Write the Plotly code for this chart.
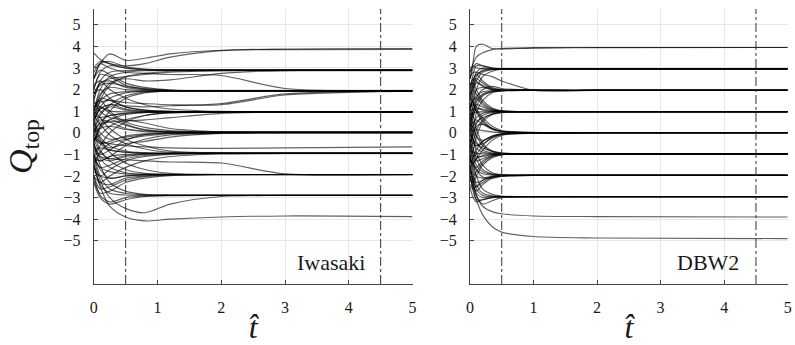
import plotly.graph_objects as go

# ---------------- data ----------------
panel_labels = ["Iwasaki", "DBW2"]
x_ticks = [0, 1, 2, 3, 4, 5]
y_ticks = [-5, -4, -3, -2, -1, 0, 1, 2, 3, 4, 5]
marker_times = [0.5, 4.5]

t_iwasaki = [0, 0.1, 0.25, 0.5, 0.8, 1.2, 2, 3, 5]
q_iwasaki = [
    # -> 0
    [0.3, 0.6, 0.5, 0.2, 0.08, 0.03, 0.02, 0.02, 0.02],
    [-0.2, -0.5, -0.4, -0.15, -0.05, 0.0, 0.01, 0.01, 0.01],
    [0.8, 1.2, 0.9, 0.4, 0.15, 0.05, 0.03, 0.03, 0.03],
    [-0.6, -1.0, -0.8, -0.35, -0.1, -0.02, 0.0, 0.0, 0.0],
    [1.2, 1.5, 1.0, 0.5, 0.25, 0.1, 0.04, 0.03, 0.03],
    [0.0, 0.2, 0.3, 0.15, 0.05, 0.02, 0.02, 0.02, 0.02],
    [-1.0, -1.3, -1.1, -0.6, -0.3, -0.1, -0.02, 0.0, 0.0],
    [0.5, 0.0, -0.3, -0.2, -0.08, -0.01, 0.01, 0.01, 0.01],
    [-0.4, 0.3, 0.6, 0.35, 0.12, 0.04, 0.03, 0.03, 0.03],
    [1.5, 1.0, 0.7, 0.6, 0.45, 0.2, 0.05, 0.03, 0.03],
    [-1.5, -0.9, -0.5, -0.3, -0.15, -0.04, 0.0, 0.0, 0.0],
    [0.2, -0.4, -0.7, -0.5, -0.4, -0.2, -0.03, 0.01, 0.01],
    # -> 1
    [0.5, 1.1, 1.3, 1.1, 1.0, 0.98, 0.97, 0.97, 0.97],
    [0.0, 0.5, 0.8, 0.9, 0.95, 0.97, 0.97, 0.97, 0.97],
    [1.0, 1.6, 1.5, 1.2, 1.05, 0.99, 0.98, 0.98, 0.98],
    [-0.5, 0.2, 0.6, 0.85, 0.93, 0.96, 0.96, 0.96, 0.96],
    [1.8, 2.0, 1.6, 1.2, 1.05, 0.99, 0.97, 0.97, 0.97],
    [0.3, 0.9, 1.2, 1.05, 0.99, 0.97, 0.97, 0.97, 0.97],
    [-0.3, -0.1, 0.3, 0.6, 0.8, 0.92, 0.96, 0.96, 0.96],
    [2.2, 2.4, 2.0, 1.6, 1.3, 1.1, 0.99, 0.98, 0.98],
    [0.8, 0.7, 0.8, 0.9, 0.95, 0.97, 0.97, 0.97, 0.97],
    [-1.0, -0.6, 0.0, 0.5, 0.8, 0.93, 0.97, 0.97, 0.97],
    [1.4, 1.2, 1.0, 0.97, 0.97, 0.97, 0.97, 0.97, 0.97],
    [0.1, 0.4, 0.5, 0.55, 0.6, 0.7, 0.9, 0.96, 0.97],
    # -> 2
    [1.0, 1.8, 2.1, 2.0, 1.96, 1.94, 1.94, 1.94, 1.94],
    [1.5, 2.3, 2.4, 2.1, 2.0, 1.95, 1.94, 1.94, 1.94],
    [0.5, 1.2, 1.6, 1.85, 1.92, 1.94, 1.94, 1.94, 1.94],
    [2.0, 2.7, 2.6, 2.2, 2.02, 1.96, 1.95, 1.95, 1.95],
    [0.0, 0.8, 1.3, 1.7, 1.88, 1.93, 1.94, 1.94, 1.94],
    [2.5, 2.9, 2.7, 2.3, 2.1, 1.98, 1.95, 1.95, 1.95],
    [1.2, 1.5, 1.8, 1.9, 1.93, 1.94, 1.94, 1.94, 1.94],
    [-0.5, 0.3, 1.0, 1.6, 1.85, 1.93, 1.94, 1.94, 1.94],
    [0.8, 1.4, 1.5, 1.4, 1.35, 1.3, 1.3, 1.75, 1.93],
    [0.6, 1.1, 1.3, 1.25, 1.2, 1.25, 1.35, 1.8, 1.93],
    [2.8, 3.2, 3.0, 2.8, 2.75, 2.7, 2.65, 2.05, 1.95],
    [1.8, 2.2, 2.3, 2.15, 2.05, 1.97, 1.94, 1.94, 1.94],
    # -> 3
    [1.5, 2.4, 2.8, 2.88, 2.9, 2.9, 2.9, 2.9, 2.9],
    [2.0, 2.8, 3.1, 3.0, 2.93, 2.9, 2.9, 2.9, 2.9],
    [1.0, 2.0, 2.6, 2.8, 2.87, 2.89, 2.89, 2.89, 2.89],
    [2.5, 3.2, 3.3, 3.05, 2.95, 2.91, 2.9, 2.9, 2.9],
    [0.5, 1.5, 2.2, 2.6, 2.75, 2.85, 2.88, 2.88, 2.88],
    [3.7, 3.4, 3.2, 3.0, 2.93, 2.91, 2.91, 2.91, 2.91],
    [1.8, 2.3, 2.5, 2.6, 2.7, 2.8, 2.87, 2.89, 2.89],
    [0.8, 1.7, 2.3, 2.5, 2.4, 2.45, 2.75, 2.88, 2.89],
    # -> 4
    [2.5, 3.2, 3.65, 3.35, 3.45, 3.65, 3.82, 3.85, 3.86],
    [3.0, 3.3, 3.2, 3.1, 3.2, 3.5, 3.8, 3.88, 3.9],
    # -> -1
    [-0.5, -1.1, -1.3, -1.1, -1.0, -0.96, -0.95, -0.95, -0.95],
    [0.0, -0.5, -0.8, -0.9, -0.94, -0.95, -0.95, -0.95, -0.95],
    [-1.0, -1.6, -1.5, -1.2, -1.05, -0.98, -0.96, -0.96, -0.96],
    [0.5, -0.2, -0.6, -0.85, -0.93, -0.95, -0.95, -0.95, -0.95],
    [-1.5, -2.0, -1.7, -1.3, -1.1, -1.0, -0.96, -0.96, -0.96],
    [-0.3, -0.9, -1.2, -1.05, -0.98, -0.95, -0.94, -0.94, -0.94],
    [0.8, 0.4, -0.1, -0.5, -0.75, -0.9, -0.94, -0.94, -0.94],
    [-2.0, -2.3, -2.0, -1.6, -1.3, -1.1, -0.98, -0.96, -0.96],
    [-0.8, -0.7, -0.8, -0.9, -0.94, -0.95, -0.95, -0.95, -0.95],
    [1.0, 0.7, 0.2, -0.3, -0.6, -0.85, -0.93, -0.94, -0.94],
    [-0.2, -0.4, -0.5, -0.6, -0.65, -0.7, -0.72, -0.7, -0.65],
    [-1.2, -1.3, -1.1, -1.0, -0.96, -0.95, -0.95, -0.95, -0.95],
    # -> -2
    [-1.0, -1.7, -2.1, -2.0, -1.95, -1.93, -1.93, -1.93, -1.93],
    [-1.5, -2.3, -2.4, -2.1, -2.0, -1.95, -1.93, -1.93, -1.93],
    [-0.5, -1.2, -1.6, -1.85, -1.92, -1.93, -1.93, -1.93, -1.93],
    [-2.0, -2.6, -2.5, -2.2, -2.03, -1.96, -1.94, -1.94, -1.94],
    [0.0, -0.8, -1.3, -1.7, -1.88, -1.92, -1.93, -1.93, -1.93],
    [-1.2, -1.6, -1.8, -1.9, -1.92, -1.93, -1.93, -1.93, -1.93],
    [-0.8, -1.1, -1.2, -1.25, -1.3, -1.35, -1.4, -1.9, -1.93],
    [-2.2, -2.8, -2.7, -2.3, -2.1, -1.98, -1.94, -1.94, -1.94],
    [0.3, -0.3, -0.9, -1.4, -1.7, -1.88, -1.93, -1.93, -1.93],
    [-1.8, -2.0, -2.1, -2.0, -1.95, -1.93, -1.93, -1.93, -1.93],
    # -> -3
    [-1.5, -2.4, -2.8, -2.88, -2.9, -2.9, -2.9, -2.9, -2.9],
    [-2.0, -2.9, -3.2, -3.0, -2.93, -2.9, -2.9, -2.9, -2.9],
    [-1.0, -2.0, -2.6, -2.8, -2.87, -2.89, -2.89, -2.89, -2.89],
    [-2.3, -3.0, -3.3, -3.1, -2.95, -2.91, -2.9, -2.9, -2.9],
    [-0.5, -1.5, -2.3, -2.7, -2.85, -2.88, -2.89, -2.89, -2.89],
    [-1.2, -2.2, -3.0, -3.5, -3.7, -3.3, -2.95, -2.9, -2.9],
    # -> -4
    [-1.5, -2.5, -3.4, -3.9, -4.08, -4.0, -3.9, -3.85, -3.88],
]

t_dbw2 = [0, 0.05, 0.1, 0.2, 0.35, 0.5, 1, 2, 5]
q_dbw2 = [
    # -> 0
    [0.3, 0.5, 0.6, 0.4, 0.15, 0.05, 0.0, 0.0, 0.0],
    [-0.3, -0.5, -0.6, -0.4, -0.15, -0.05, 0.0, 0.0, 0.0],
    [0.8, 1.1, 1.0, 0.6, 0.2, 0.06, 0.01, 0.0, 0.0],
    [-0.8, -1.1, -1.0, -0.6, -0.2, -0.06, -0.01, 0.0, 0.0],
    [1.2, 1.3, 1.1, 0.7, 0.3, 0.1, 0.02, 0.01, 0.01],
    [0.0, 0.1, 0.15, 0.1, 0.04, 0.01, 0.0, 0.0, 0.0],
    [-1.3, -1.4, -1.2, -0.8, -0.35, -0.12, -0.02, 0.0, 0.0],
    [0.5, 0.2, -0.2, -0.35, -0.2, -0.06, -0.01, 0.0, 0.0],
    [-0.5, -0.1, 0.3, 0.4, 0.2, 0.06, 0.01, 0.0, 0.0],
    [1.6, 1.4, 1.0, 0.5, 0.2, 0.07, 0.01, 0.01, 0.01],
    [-1.6, -1.2, -0.8, -0.4, -0.15, -0.05, -0.01, 0.0, 0.0],
    [0.2, -0.3, -0.6, -0.5, -0.25, -0.08, -0.01, 0.0, 0.0],
    # -> 1
    [0.5, 1.0, 1.3, 1.2, 1.05, 1.0, 0.98, 0.98, 0.98],
    [0.0, 0.4, 0.7, 0.9, 0.96, 0.98, 0.98, 0.98, 0.98],
    [1.0, 1.5, 1.6, 1.3, 1.08, 1.0, 0.98, 0.98, 0.98],
    [-0.5, 0.0, 0.4, 0.8, 0.94, 0.97, 0.98, 0.98, 0.98],
    [1.7, 2.0, 1.8, 1.4, 1.1, 1.01, 0.98, 0.98, 0.98],
    [0.3, 0.8, 1.1, 1.1, 1.02, 0.99, 0.98, 0.98, 0.98],
    [-0.8, -0.4, 0.1, 0.6, 0.88, 0.95, 0.98, 0.98, 0.98],
    [2.2, 2.3, 2.0, 1.5, 1.15, 1.02, 0.98, 0.98, 0.98],
    [0.8, 0.9, 0.95, 0.97, 0.98, 0.98, 0.98, 0.98, 0.98],
    [-1.2, -0.8, -0.2, 0.5, 0.85, 0.95, 0.98, 0.98, 0.98],
    [1.3, 1.4, 1.2, 1.05, 1.0, 0.98, 0.98, 0.98, 0.98],
    [0.1, 0.3, 0.5, 0.7, 0.85, 0.93, 0.97, 0.98, 0.98],
    # -> 2
    [1.0, 1.6, 2.0, 2.1, 2.0, 1.97, 1.96, 1.96, 1.96],
    [1.5, 2.2, 2.5, 2.3, 2.05, 1.98, 1.96, 1.96, 1.96],
    [0.5, 1.0, 1.5, 1.8, 1.93, 1.95, 1.96, 1.96, 1.96],
    [2.0, 2.5, 2.7, 2.4, 2.1, 2.0, 1.96, 1.96, 1.96],
    [0.0, 0.7, 1.2, 1.7, 1.9, 1.95, 1.96, 1.96, 1.96],
    [2.5, 2.8, 2.8, 2.7, 2.6, 2.4, 1.97, 1.96, 1.96],
    [1.2, 1.5, 1.7, 1.9, 1.95, 1.96, 1.96, 1.96, 1.96],
    [-0.5, 0.2, 0.9, 1.5, 1.85, 1.94, 1.96, 1.96, 1.96],
    [0.8, 1.2, 1.6, 2.0, 2.15, 2.05, 1.97, 1.96, 1.96],
    [1.8, 2.1, 2.3, 2.2, 2.03, 1.98, 1.96, 1.96, 1.96],
    [0.3, 0.9, 1.4, 1.75, 1.9, 1.95, 1.96, 1.96, 1.96],
    [2.2, 2.5, 2.4, 2.15, 2.0, 1.97, 1.96, 1.96, 1.96],
    # -> 3
    [1.5, 2.3, 2.8, 3.0, 2.97, 2.96, 2.96, 2.96, 2.96],
    [2.0, 2.7, 3.1, 3.1, 3.0, 2.97, 2.96, 2.96, 2.96],
    [1.0, 1.8, 2.4, 2.8, 2.92, 2.95, 2.96, 2.96, 2.96],
    [2.5, 3.0, 3.2, 3.1, 3.0, 2.97, 2.96, 2.96, 2.96],
    [0.5, 1.3, 2.0, 2.6, 2.85, 2.93, 2.96, 2.96, 2.96],
    [2.8, 3.1, 3.0, 2.97, 2.96, 2.96, 2.96, 2.96, 2.96],
    [1.8, 2.4, 2.7, 2.85, 2.93, 2.95, 2.96, 2.96, 2.96],
    [1.2, 2.0, 2.6, 2.9, 2.95, 2.96, 2.96, 2.96, 2.96],
    # -> 4
    [2.5, 3.3, 4.0, 4.1, 3.9, 3.88, 3.92, 3.94, 3.95],
    [2.8, 3.2, 3.5, 3.7, 3.85, 3.9, 3.94, 3.95, 3.95],
    # -> -1
    [-0.5, -1.0, -1.3, -1.2, -1.05, -1.0, -0.98, -0.98, -0.98],
    [0.0, -0.4, -0.7, -0.9, -0.96, -0.98, -0.98, -0.98, -0.98],
    [-1.0, -1.5, -1.6, -1.3, -1.08, -1.0, -0.98, -0.98, -0.98],
    [0.5, 0.0, -0.4, -0.8, -0.94, -0.97, -0.98, -0.98, -0.98],
    [-1.7, -2.0, -1.8, -1.4, -1.1, -1.01, -0.98, -0.98, -0.98],
    [-0.3, -0.8, -1.1, -1.1, -1.02, -0.99, -0.98, -0.98, -0.98],
    [0.8, 0.4, -0.1, -0.6, -0.88, -0.95, -0.98, -0.98, -0.98],
    [-2.2, -2.3, -2.0, -1.5, -1.15, -1.02, -0.98, -0.98, -0.98],
    [-0.8, -0.9, -0.95, -0.97, -0.98, -0.98, -0.98, -0.98, -0.98],
    [1.2, 0.8, 0.2, -0.5, -0.85, -0.95, -0.98, -0.98, -0.98],
    [-1.3, -1.4, -1.2, -1.05, -1.0, -0.98, -0.98, -0.98, -0.98],
    [-0.1, -0.3, -0.5, -0.7, -0.85, -0.93, -0.97, -0.98, -0.98],
    # -> -2
    [-1.0, -1.6, -2.0, -2.1, -2.0, -1.98, -1.97, -1.97, -1.97],
    [-1.5, -2.2, -2.5, -2.3, -2.05, -1.99, -1.97, -1.97, -1.97],
    [-0.5, -1.0, -1.5, -1.8, -1.93, -1.96, -1.97, -1.97, -1.97],
    [-2.0, -2.5, -2.7, -2.4, -2.1, -2.0, -1.97, -1.97, -1.97],
    [0.0, -0.7, -1.2, -1.7, -1.9, -1.95, -1.97, -1.97, -1.97],
    [-1.2, -1.5, -1.7, -1.9, -1.95, -1.97, -1.97, -1.97, -1.97],
    [0.4, -0.3, -0.9, -1.5, -1.85, -1.94, -1.97, -1.97, -1.97],
    [-0.8, -1.3, -1.7, -2.05, -2.1, -2.02, -1.97, -1.97, -1.97],
    [-1.8, -2.1, -2.3, -2.2, -2.03, -1.98, -1.97, -1.97, -1.97],
    [-2.4, -2.6, -2.5, -2.2, -2.04, -1.99, -1.97, -1.97, -1.97],
    # -> -3
    [-1.5, -2.3, -2.8, -3.0, -2.97, -2.96, -2.96, -2.96, -2.96],
    [-2.0, -2.7, -3.1, -3.1, -3.0, -2.97, -2.96, -2.96, -2.96],
    [-1.0, -1.8, -2.4, -2.8, -2.92, -2.95, -2.96, -2.96, -2.96],
    [-2.5, -3.0, -3.2, -3.1, -3.0, -2.97, -2.96, -2.96, -2.96],
    [-0.5, -1.3, -2.0, -2.6, -2.85, -2.93, -2.96, -2.96, -2.96],
    [-1.8, -2.4, -2.9, -3.3, -3.15, -3.0, -2.96, -2.96, -2.96],
    [-1.2, -2.0, -2.6, -2.9, -2.95, -2.96, -2.96, -2.96, -2.96],
    # -> -4, -5
    [-1.5, -2.3, -2.9, -3.4, -3.65, -3.75, -3.85, -3.88, -3.9],
    [-2.0, -2.6, -3.1, -3.8, -4.35, -4.6, -4.8, -4.87, -4.9],
]

# ---------------- figure ----------------
W, H = 795, 345
fig = go.Figure()

panels = [
    (t_iwasaki, q_iwasaki, "x", "y"),
    (t_dbw2, q_dbw2, "x2", "y2"),
]
for t_vals, series, xa, ya in panels:
    for q in series:
        fig.add_trace(go.Scatter(
            x=t_vals, y=q, mode="lines", xaxis=xa, yaxis=ya,
            line=dict(color="rgba(0,0,0,0.62)", width=1.15, shape="spline", smoothing=0.8),
            hoverinfo="skip", showlegend=False,
        ))

serif = "'Liberation Serif', 'Times New Roman', Times, serif"
txt = "#1a1a1a"
axis_common = dict(
    showline=True, linecolor="#444", linewidth=1.2, mirror=False,
    ticks="inside", ticklen=4, tickcolor="#444", tickwidth=1,
    showgrid=True, gridcolor="#e6e6e6", gridwidth=1.2,
    zeroline=False, tickfont=dict(family=serif, size=16, color=txt),
    ticklabelstandoff=9,
)
x_title = dict(text="<i>t\u0302</i>", font=dict(family=serif, size=32, color=txt), standoff=6)
y_title = dict(text="<i>Q</i><sub>top</sub>", font=dict(family=serif, size=34, color=txt), standoff=20)

fig.update_layout(
    width=W, height=H,
    font=dict(family=serif, color=txt),
    margin=dict(l=0, r=0, t=9, b=59),
    plot_bgcolor="white", paper_bgcolor="white",
    xaxis=dict(domain=[90.7 / W, 412.7 / W], range=[0, 5], tickvals=x_ticks, title=x_title, **axis_common),
    yaxis=dict(domain=[0, 1], range=[-7, 5.73], tickvals=y_ticks, title=y_title, **axis_common),
    xaxis2=dict(domain=[470.7 / W, 791.7 / W], range=[0, 5], tickvals=x_ticks, title=x_title, anchor="y2", **axis_common),
    yaxis2=dict(domain=[0, 1], range=[-7, 5.73], tickvals=y_ticks, anchor="x2", **axis_common),
)

for xa, ya in [("x", "y"), ("x2", "y2")]:
    for tm in marker_times:
        fig.add_shape(type="line", xref=xa, yref=ya + " domain", x0=tm, x1=tm, y0=0, y1=1,
                      line=dict(color="#333", width=1, dash="dashdot"))

fig.add_annotation(text=panel_labels[0], x=3.72, y=-6.0, xref="x", yref="y", showarrow=False,
                   font=dict(family=serif, size=22, color=txt))
fig.add_annotation(text=panel_labels[1], x=3.75, y=-6.0, xref="x2", yref="y2", showarrow=False,
                   font=dict(family=serif, size=22, color=txt))

fig.write_html("out.html")
